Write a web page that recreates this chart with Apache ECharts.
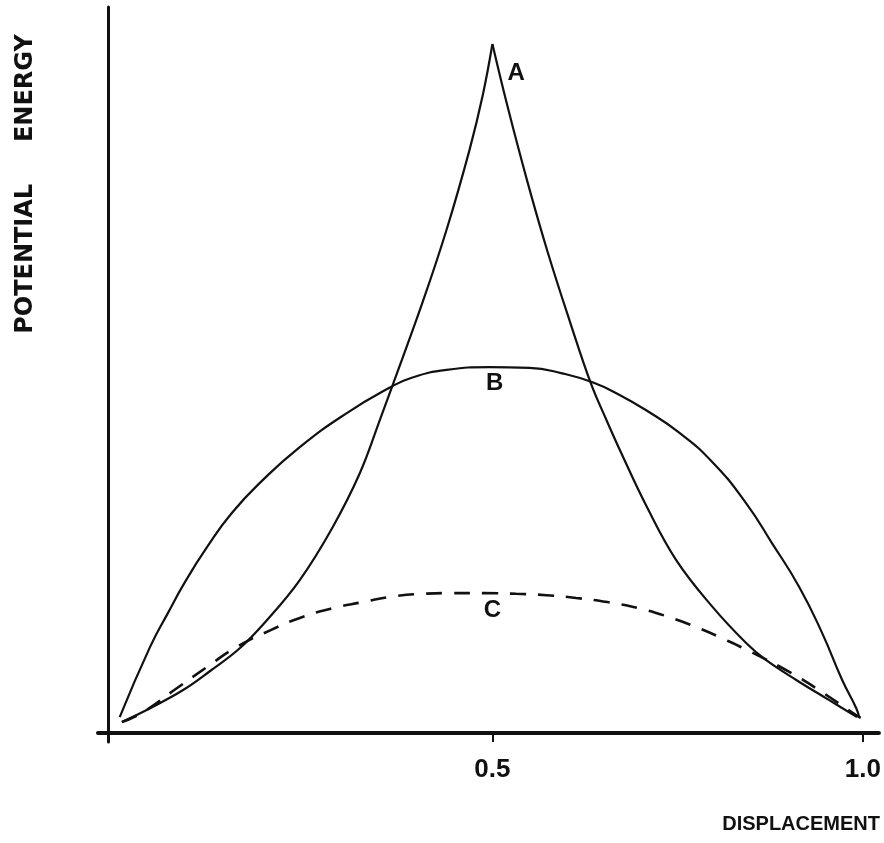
<!DOCTYPE html>
<html><head><meta charset="utf-8">
<script src="https://cdn.jsdelivr.net/npm/echarts@6/dist/echarts.min.js"></script>
<style>html,body{margin:0;padding:0;background:#fff}#c{width:884px;height:843px}</style>
</head><body><div id="c"></div>
<script>
// Curve A: sharp cusp barrier (peak at x = 0.5)
const curveA = [
  [0.000, 1.6], [0.038, 3.6], [0.082, 6.2], [0.119, 9.0], [0.159, 12.3],
  [0.195, 16.3], [0.240, 22.2], [0.284, 29.8], [0.321, 37.7], [0.349, 45.7],
  [0.364, 50.1], [0.406, 62.6], [0.438, 73.0], [0.469, 84.6], [0.487, 92.6],
  [0.500, 100.0],
  [0.520, 91.1], [0.547, 80.1], [0.574, 70.0], [0.604, 59.9], [0.633, 50.7],
  [0.654, 45.4], [0.674, 40.6], [0.708, 32.9], [0.748, 25.1], [0.797, 18.3],
  [0.842, 13.1], [0.869, 10.6], [0.910, 7.7], [0.954, 4.8], [0.992, 2.3]
];
// Curve B: broad arch
const curveB = [
  [-0.003, 2.3], [0.038, 12.5], [0.062, 17.4], [0.085, 21.9], [0.115, 27.0],
  [0.148, 31.9], [0.190, 36.7], [0.240, 41.5], [0.303, 46.4], [0.361, 50.1],
  [0.392, 51.6], [0.438, 52.7], [0.496, 53.1], [0.550, 53.0], [0.594, 52.2],
  [0.635, 50.9], [0.671, 49.1], [0.708, 46.8], [0.752, 43.6], [0.797, 39.3],
  [0.842, 33.4], [0.877, 27.6], [0.914, 21.2], [0.945, 14.5], [0.972, 7.7],
  [0.991, 3.6], [0.995, 2.3]
];
// Curve C: low dashed arch
const curveC = [
  [0.000, 1.6], [0.028, 3.0], [0.074, 6.5], [0.115, 9.6], [0.155, 12.5],
  [0.200, 14.9], [0.240, 16.7], [0.284, 18.1], [0.325, 19.0], [0.365, 19.8],
  [0.406, 20.2], [0.445, 20.3], [0.489, 20.3], [0.532, 20.2], [0.573, 20.0],
  [0.613, 19.6], [0.655, 19.0], [0.698, 18.1], [0.739, 16.8], [0.779, 15.2],
  [0.815, 13.5], [0.850, 11.7], [0.900, 8.9], [0.941, 6.2], [0.985, 3.0],
  [0.997, 2.2]
];
const curveNames = ['A', 'B', 'C'];
const curveLabelAt = [[0.532, 95.8], [0.503, 50.8], [0.500, 17.85]];
const xTickValues = [0.5, 1.0];
const xTitle = 'DISPLACEMENT';
const yTitle = 'POTENTIAL     ENERGY';

const ink = '#111';
const chart = echarts.init(document.getElementById('c'), null, {renderer: 'canvas'});

function labelPoint(i) {
  return {
    symbol: 'circle', symbolSize: 0,
    label: {show: true, position: 'inside', formatter: curveNames[i], color: ink,
      fontFamily: 'Liberation Sans', fontWeight: 'bold', fontSize: 24},
    data: [{coord: curveLabelAt[i]}]
  };
}

function lineSeries(name, data, smooth, style, mark) {
  const s = {
    name: name, type: 'line', data: data, showSymbol: false, smooth: smooth,
    lineStyle: style, silent: true, z: 3
  };
  if (mark) s.markPoint = mark;
  return s;
}

// split A at its cusp so each branch can be smoothed while the peak stays sharp
let peak = 0;
curveA.forEach((p, i) => { if (p[1] > curveA[peak][1]) peak = i; });
const solid = {color: ink, width: 2.2, type: 'solid'};
const dashed = {color: ink, width: 2.6, type: [16, 12]};

const series = [
  lineSeries('A', curveA.slice(0, peak + 1), 0.4, solid, labelPoint(0)),
  lineSeries('A', curveA.slice(peak), 0.4, solid, null),
  lineSeries('B', curveB, 0.5, solid, labelPoint(1)),
  lineSeries('C', curveC, 0.5, dashed, labelPoint(2))
];

chart.setOption({
  animation: false,
  backgroundColor: '#fff',
  grid: {left: 98, right: 4, top: 7, bottom: 101, containLabel: false},
  xAxis: {
    type: 'value', min: -0.0323, max: 1.0216,
    splitLine: {show: false},
    axisLine: {onZero: true, lineStyle: {color: ink, width: 4}},
    axisTick: {show: true, customValues: xTickValues, length: 9, lineStyle: {color: ink, width: 2}},
    axisLabel: {show: true, customValues: xTickValues, margin: 15,
      formatter: v => v.toFixed(1), color: ink,
      fontFamily: 'Liberation Sans', fontWeight: 'bold', fontSize: 26}
  },
  yAxis: {
    type: 'value', min: -1.306, max: 105.37, offset: -10,
    splitLine: {show: false},
    axisLine: {show: true, onZero: false, lineStyle: {color: ink, width: 3}},
    axisTick: {show: false},
    axisLabel: {show: false}
  },
  graphic: [
    {type: 'text', x: 26, y: 184, rotation: Math.PI / 2,
      style: {text: yTitle, align: 'center', verticalAlign: 'middle', fill: ink,
        font: 'bold 24px "DejaVu Sans"'}},
    {type: 'text', x: 880, y: 824,
      style: {text: xTitle, align: 'right', verticalAlign: 'middle', fill: ink,
        font: 'bold 20px "Liberation Sans"'}}
  ],
  series: series
});
</script>
</body></html>
